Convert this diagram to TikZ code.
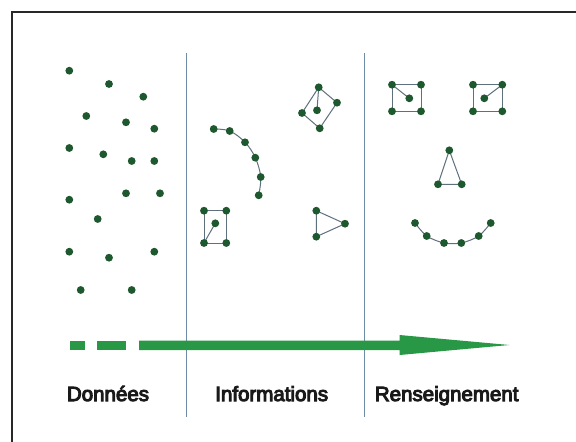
\documentclass[tikz,border=0pt]{standalone}
\usepackage{fontspec}
\newfontfamily\labelfont{Liberation Sans}
\newcommand{\heavytext}[1]{\special{pdf:code q 2 Tr 1.0 w}#1\special{pdf:code Q}}
\pgfdeclarelayer{background}
\pgfsetlayers{background,main}
\definecolor{dotgreen}{RGB}{30,88,46}
\definecolor{edgegray}{RGB}{95,112,125}
\definecolor{divblue}{RGB}{110,140,165}
\definecolor{arrowgreen}{RGB}{40,152,70}
\definecolor{framegray}{RGB}{40,40,40}
\tikzset{
  dot/.style={circle,fill=dotgreen,inner sep=0pt,minimum size=7.8pt},
  edge/.style={draw=edgegray,line width=1pt},
  divider/.style={draw=divblue,line width=0.9pt},
  lbl/.style={anchor=base,inner sep=0pt,text=black!90,font=\labelfont\fontsize{20.5}{22}\selectfont}
}
\begin{document}
\begin{tikzpicture}[x=1pt,y=-1pt]
\useasboundingbox (0,0) rectangle (576,442);
% frame
\draw[framegray,line width=1.4pt] (576,12) -- (12,12) -- (12,442);
% dividers
\draw[divider] (186.5,53) -- (186.5,417);
\draw[divider] (364.5,53) -- (364.5,417);

% Donnees dots
\node[dot] (d1) at (69.3,70.7) {};
\node[dot] (d2) at (109,84) {};
\node[dot] (d3) at (143.3,96.7) {};
\node[dot] (d4) at (86.3,116) {};
\node[dot] (d5) at (126,122.3) {};
\node[dot] (d6) at (154.3,128.7) {};
\node[dot] (d7) at (69.3,148) {};
\node[dot] (d8) at (103.3,154.3) {};
\node[dot] (d9) at (131.7,161) {};
\node[dot] (d10) at (154.3,161) {};
\node[dot] (d11) at (126,193.3) {};
\node[dot] (d12) at (160,193.3) {};
\node[dot] (d13) at (69.3,199.7) {};
\node[dot] (d14) at (97.7,219) {};
\node[dot] (d15) at (69.3,251.7) {};
\node[dot] (d16) at (109,257.7) {};
\node[dot] (d17) at (154.3,251.7) {};
\node[dot] (d18) at (80.7,290) {};
\node[dot] (d19) at (131.7,290) {};

% Informations: diamond
\node[dot] (qt) at (318.7,87.3) {};
\node[dot] (qr) at (337,102.7) {};
\node[dot] (qb) at (319.7,128.3) {};
\node[dot] (ql) at (302,113) {};
\node[dot] (qc) at (317,110.3) {};
% arc
\node[dot] (a1) at (213.7,129) {};
\node[dot] (a2) at (229.7,131) {};
\node[dot] (a3) at (245,142.3) {};
\node[dot] (a4) at (255.3,157.7) {};
\node[dot] (a5) at (260.7,177) {};
\node[dot] (a6) at (258.7,195.3) {};
% square
\node[dot] (s1) at (204,210.7) {};
\node[dot] (s2) at (226.3,210.7) {};
\node[dot] (s3) at (226.3,243) {};
\node[dot] (s4) at (204,243) {};
\node[dot] (s5) at (215.3,223.3) {};
% triangle
\node[dot] (t1) at (316.3,210.7) {};
\node[dot] (t2) at (345,223.7) {};
\node[dot] (t3) at (316.3,236.7) {};

% Renseignement: left eye
\node[dot] (l1) at (392,84.7) {};
\node[dot] (l2) at (421,84.7) {};
\node[dot] (l3) at (421,111.3) {};
\node[dot] (l4) at (392,111.3) {};
\node[dot] (l5) at (409.3,98.3) {};
% right eye
\node[dot] (r1) at (473,84.7) {};
\node[dot] (r2) at (502.3,84.7) {};
\node[dot] (r3) at (502.3,111.3) {};
\node[dot] (r4) at (473,111.3) {};
\node[dot] (r5) at (484.3,98.3) {};
% nose
\node[dot] (n1) at (449.3,150.3) {};
\node[dot] (n2) at (438,184.3) {};
\node[dot] (n3) at (461.7,184.3) {};
% mouth
\node[dot] (m1) at (415,223) {};
\node[dot] (m2) at (426.7,236) {};
\node[dot] (m3) at (444,243) {};
\node[dot] (m4) at (461.3,243) {};
\node[dot] (m5) at (478.7,236) {};
\node[dot] (m6) at (490.7,223) {};

\begin{pgfonlayer}{background}
\fill[white] (0,0) rectangle (576,442);
\draw[edge] (qt.center) -- (qr.center) -- (qb.center) -- (ql.center) -- cycle;
\draw[edge] (qt.center) -- (qc.center);
\draw[edge] plot[smooth,tension=0.6] coordinates {(a1.center) (a2.center) (a3.center) (a4.center) (a5.center) (a6.center)};
\draw[edge] (s1.center) -- (s2.center) -- (s3.center) -- (s4.center) -- cycle;
\draw[edge] (s4.center) -- (s5.center);
\draw[edge] (t1.center) -- (t2.center) -- (t3.center) -- cycle;
\draw[edge] (l1.center) -- (l2.center) -- (l3.center) -- (l4.center) -- cycle;
\draw[edge] (l1.center) -- (l5.center);
\draw[edge] (r1.center) -- (r2.center) -- (r3.center) -- (r4.center) -- cycle;
\draw[edge] (r2.center) -- (r5.center);
\draw[edge] (n1.center) -- (n2.center) -- (n3.center) -- cycle;
\draw[edge] plot[smooth,tension=0.5] coordinates {(m1.center) (m2.center) (m3.center) (m4.center) (m5.center) (m6.center)};
\end{pgfonlayer}

% big arrow
\fill[arrowgreen] (70,340.7) rectangle (85,350);
\fill[arrowgreen] (97.3,340.7) rectangle (126,350);
\fill[arrowgreen] (139,340.7) -- (399.5,340.7) -- (399.5,335) -- (509.3,345) -- (399.5,355) -- (399.5,350) -- (139,350) -- cycle;

% labels
\node[lbl] (ld) at (108,401) {\heavytext{Données}};
\node[lbl] (li) at (271.7,401) {\heavytext{Informations}};
\node[lbl] (lr) at (446.7,401) {\heavytext{Renseignement}};
\end{tikzpicture}
\end{document}
